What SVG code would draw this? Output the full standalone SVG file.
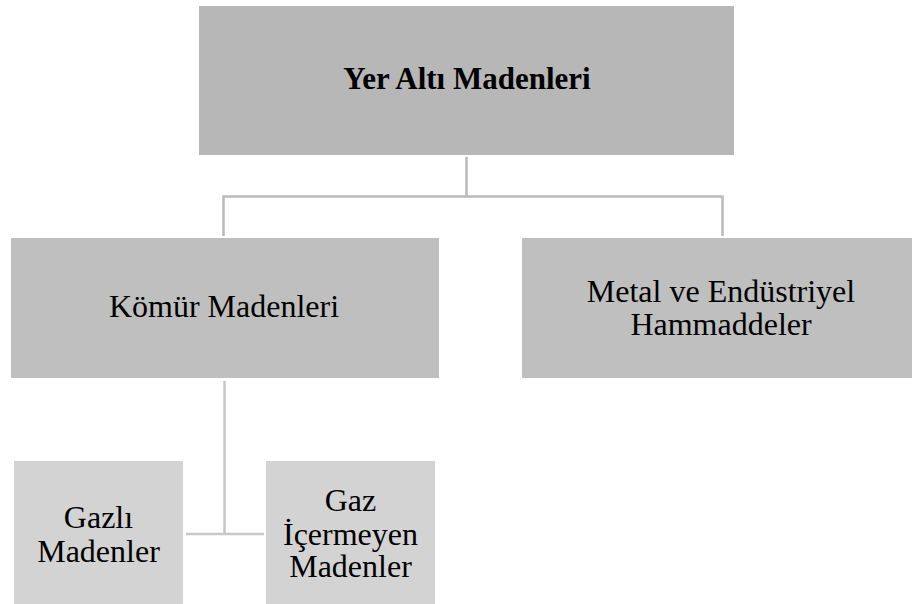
<svg xmlns="http://www.w3.org/2000/svg" width="912" height="604" viewBox="0 0 912 604">
<style>
text{font-family:"Liberation Serif","Times New Roman",serif;fill:#000;text-anchor:middle;font-size:32px}
.b{font-weight:bold;font-size:31px}
.c1{stroke:#bababa;stroke-width:2.5;fill:none}
.c2{stroke:#c8c8c8;stroke-width:2.5;fill:none}
</style>
<rect width="912" height="604" fill="#ffffff"/>
<g id="connectors">
<path class="c1" d="M466.5 157V196.5M223.5 236V196.5H722.5V236"/>
<path class="c2" d="M224.5 381V534M186 534H264"/>
</g>
<g id="n1">
<rect x="199" y="6" width="535" height="149" fill="#b7b7b7"/>
<text class="b" x="467" y="89">Yer Altı Madenleri</text>
</g>
<g id="n2">
<rect x="11" y="238" width="428" height="140" fill="#bfbfbf"/>
<text x="224" y="317">Kömür Madenleri</text>
</g>
<g id="n3">
<rect x="522" y="238" width="390" height="140" fill="#bfbfbf"/>
<text x="721" y="302">Metal ve Endüstriyel</text>
<text x="721" y="335">Hammaddeler</text>
</g>
<g id="n4">
<rect x="14" y="461" width="169" height="143" fill="#d3d3d3"/>
<text x="98.5" y="528">Gazlı</text>
<text x="98.5" y="562">Madenler</text>
</g>
<g id="n5">
<rect x="266" y="461" width="169" height="143" fill="#d3d3d3"/>
<text x="350.5" y="511">Gaz</text>
<text x="350.5" y="545">İçermeyen</text>
<text x="350.5" y="577">Madenler</text>
</g>
</svg>
